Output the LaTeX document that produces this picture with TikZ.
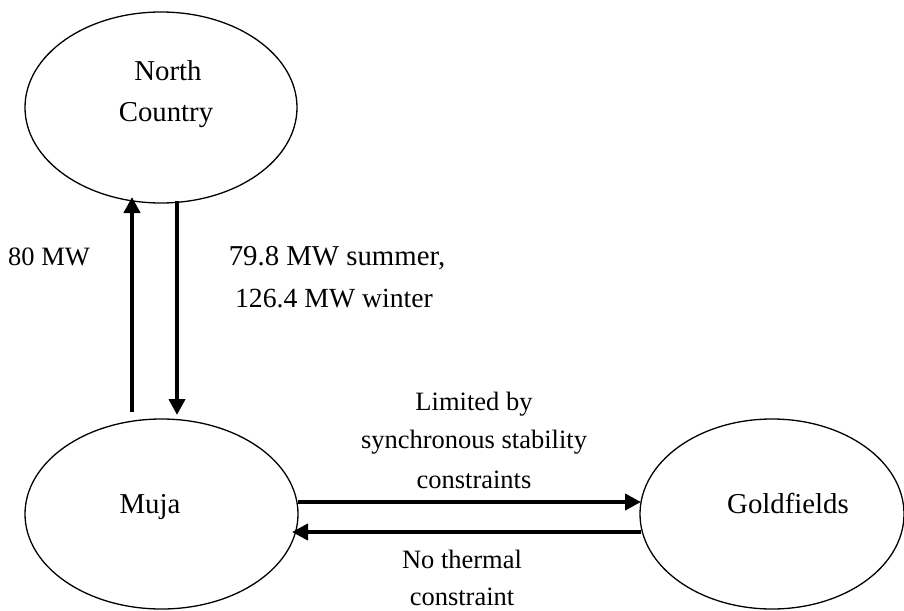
\documentclass[tikz,border=0pt]{standalone}
\usepackage{fontspec}
\setmainfont{Liberation Serif}
\usetikzlibrary{shapes.geometric,arrows.meta}
\begin{document}
\begin{tikzpicture}[x=1pt,y=-1pt,
  region/.style={draw,ellipse,line width=1.3pt,inner sep=0pt},
  flow/.style={line width=4.6pt,-{Triangle[length=16pt,width=16pt]}},
  txt/.style={anchor=base,inner sep=0pt,font=\fontsize{26.5}{32}\selectfont},
  big/.style={txt,font=\fontsize{28.8}{34}\selectfont}]
\useasboundingbox (0,0) rectangle (904,610);
\node[region,minimum width=272pt,minimum height=191pt] (nc) at (161,107.5) {};
\node[region,minimum width=273pt,minimum height=190pt] (muja) at (161.5,514) {};
\node[region,minimum width=264pt,minimum height=190pt] (gf) at (772,514) {};
% labels
\node[big] (t1) at (168,80) {North};
\node[big] (t2) at (166,121) {Country};
\node[big] (t3) at (150,513) {Muja};
\node[big] (t4) at (788,513) {Goldfields};
\node[txt] (l1) at (49,265) {80 MW};
\node[big] (l2) at (337,265) {79.8 MW summer,};
\node[txt,font=\fontsize{27.7}{33}\selectfont] (l3) at (334,307) {126.4 MW winter};
\node[txt] (l4) at (474,410) {Limited by};
\node[txt] (l5) at (474,448) {synchronous stability};
\node[txt] (l6) at (474,488) {constraints};
\node[txt] (l7) at (462,568) {No thermal};
\node[txt] (l8) at (462,605) {constraint};
% connector end points
\coordinate (upS) at (132,412);
\coordinate (upE) at (132,197);
\coordinate (dnS) at (177,201);
\coordinate (dnE) at (177,415);
\coordinate (rtS) at (298,502);
\coordinate (rtE) at (641,502);
\coordinate (lfS) at (641,532);
\coordinate (lfE) at (292,532);
\draw[flow] (upS) -- (upE);
\draw[flow] (dnS) -- (dnE);
\draw[flow] (rtS) -- (rtE);
\draw[flow] (lfS) -- (lfE);
\end{tikzpicture}
\end{document}
